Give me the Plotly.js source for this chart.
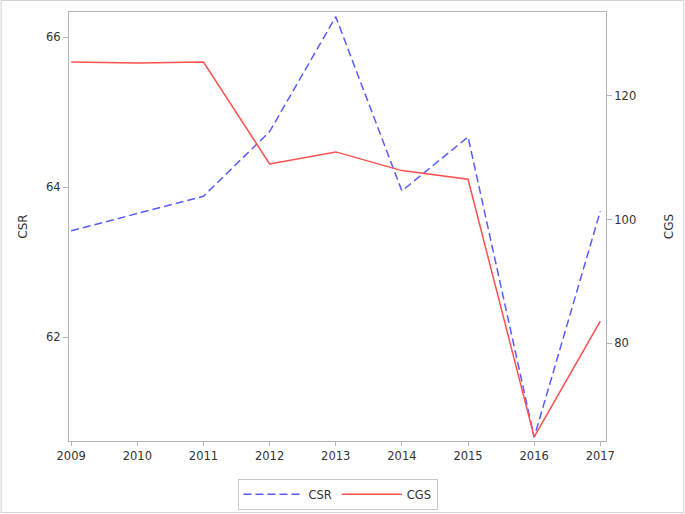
<!DOCTYPE html>
<html>
<head>
<meta charset="utf-8">
<script src="https://cdn.plot.ly/plotly-3.0.1.min.js"></script>
<style>
html,body{margin:0;padding:0;background:#fff;}
#chart{width:685px;height:514px;}
</style>
</head>
<body>
<div id="chart"></div>
<script>
var years = [2009, 2010, 2011, 2012, 2013, 2014, 2015, 2016, 2017];
var csr = [63.42, 63.65, 63.88, 64.74, 66.27, 63.95, 64.67, 60.67, 63.68];
var cgs = [125.45, 125.3, 125.45, 109.0, 110.94, 107.92, 106.53, 64.9, 83.61];
var leftTicks = [62, 64, 66];
var rightTicks = [80, 100, 120];

var axisColor = '#b4b4b4';
var fam = 'DejaVu Sans, Arial, sans-serif';
var tickFont = {family: fam, size: 11.5, color: '#333'};

var traces = [
  {x: years, y: csr, name: 'CSR', type: 'scatter', mode: 'lines', yaxis: 'y',
   line: {color: '#5b5bff', width: 1.5, dash: '8px,4px'}},
  {x: years, y: cgs, name: 'CGS', type: 'scatter', mode: 'lines', yaxis: 'y2',
   line: {color: '#ff4f4f', width: 1.5}}
];

var layout = {
  width: 685, height: 514,
  margin: {l: 69, r: 79, t: 12, b: 73, autoexpand: false},
  paper_bgcolor: '#fff', plot_bgcolor: '#fff',
  font: tickFont,
  showlegend: true,
  legend: {orientation: 'h', x: 0.5, xanchor: 'center', y: -0.088, yanchor: 'top',
           bordercolor: '#c8c8c8', borderwidth: 1, font: {family: fam, size: 11.5, color: '#333'},
           itemwidth: 60, tracegroupgap: 0},
  xaxis: {range: [2008.967, 2017.086], tickmode: 'array', tickvals: years, ticktext: years.map(String),
          showgrid: false, zeroline: false, showline: true, linecolor: axisColor, linewidth: 1, mirror: true,
          ticks: 'outside', ticklen: 4, tickcolor: axisColor, tickfont: tickFont, automargin: false},
  yaxis: {range: [60.621, 66.333], tickmode: 'array', tickvals: leftTicks, ticktext: leftTicks.map(String),
          showgrid: false, zeroline: false, showline: true, linecolor: axisColor, linewidth: 1, mirror: true,
          ticks: 'outside', ticklen: 5, tickcolor: axisColor, tickfont: tickFont, automargin: false,
          title: {text: 'CSR', font: {family: fam, size: 12, color: '#333'}, standoff: 15}},
  yaxis2: {range: [64.24, 133.54], overlaying: 'y', side: 'right', tickmode: 'array', tickvals: rightTicks,
           ticktext: rightTicks.map(String), showgrid: false, zeroline: false, showline: false,
           ticks: 'outside', ticklen: 5, tickcolor: axisColor, tickfont: tickFont, automargin: false,
           title: {text: 'CGS', font: {family: fam, size: 12, color: '#333'}, standoff: 29}},
  shapes: [{type: 'rect', xref: 'paper', yref: 'paper', x0: -0.1264, x1: 1.145, y0: -0.167, y1: 1.027,
            line: {color: '#d0d0d0', width: 1}, fillcolor: 'rgba(0,0,0,0)'}]
};

Plotly.newPlot('chart', traces, layout, {displayModeBar: false, staticPlot: true});
</script>
</body>
</html>
